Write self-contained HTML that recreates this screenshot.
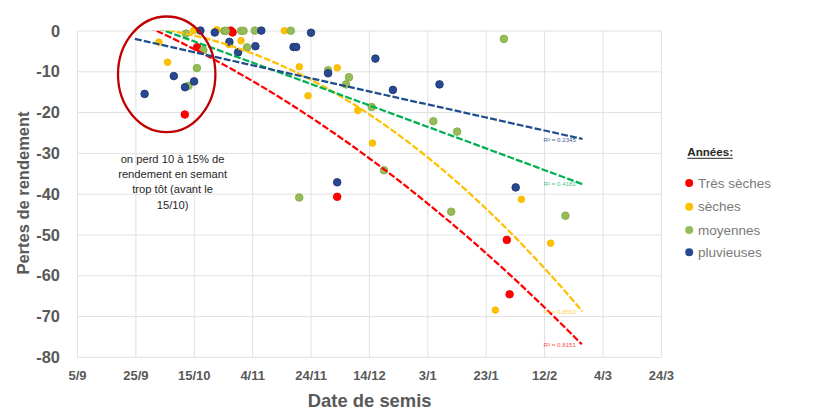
<!DOCTYPE html><html><head><meta charset="utf-8"><style>html,body{margin:0;padding:0;background:#fff;width:820px;height:415px;overflow:hidden}svg{display:block}text{font-family:"Liberation Sans",sans-serif}</style></head><body>
<svg width="820" height="415" viewBox="0 0 820 415">
<rect width="820" height="415" fill="#fff"/>
<defs><clipPath id="pc"><rect x="77.5" y="30.5" width="583.9" height="327.4"/></clipPath></defs>
<path d="M77.5 31.0V357.4M135.9 31.0V357.4M194.3 31.0V357.4M252.7 31.0V357.4M311.1 31.0V357.4M369.4 31.0V357.4M427.8 31.0V357.4M486.2 31.0V357.4M544.6 31.0V357.4M603.0 31.0V357.4M661.4 31.0V357.4M77.5 31.0H661.4M77.5 71.8H661.4M77.5 112.6H661.4M77.5 153.4H661.4M77.5 194.2H661.4M77.5 235.0H661.4M77.5 275.8H661.4M77.5 316.6H661.4M77.5 357.4H661.4" stroke="#e1e1e1" stroke-width="1" fill="none"/>
<text x="60" y="36.6" font-size="16.4" font-weight="700" fill="#595959" text-anchor="end">0</text>
<text x="60" y="77.4" font-size="16.4" font-weight="700" fill="#595959" text-anchor="end">-10</text>
<text x="60" y="118.2" font-size="16.4" font-weight="700" fill="#595959" text-anchor="end">-20</text>
<text x="60" y="159.0" font-size="16.4" font-weight="700" fill="#595959" text-anchor="end">-30</text>
<text x="60" y="199.8" font-size="16.4" font-weight="700" fill="#595959" text-anchor="end">-40</text>
<text x="60" y="240.6" font-size="16.4" font-weight="700" fill="#595959" text-anchor="end">-50</text>
<text x="60" y="281.4" font-size="16.4" font-weight="700" fill="#595959" text-anchor="end">-60</text>
<text x="60" y="322.2" font-size="16.4" font-weight="700" fill="#595959" text-anchor="end">-70</text>
<text x="60" y="363.0" font-size="16.4" font-weight="700" fill="#595959" text-anchor="end">-80</text>
<text x="77.5" y="380.2" font-size="13" font-weight="700" fill="#595959" text-anchor="middle">5/9</text>
<text x="135.9" y="380.2" font-size="13" font-weight="700" fill="#595959" text-anchor="middle">25/9</text>
<text x="194.3" y="380.2" font-size="13" font-weight="700" fill="#595959" text-anchor="middle">15/10</text>
<text x="252.7" y="380.2" font-size="13" font-weight="700" fill="#595959" text-anchor="middle">4/11</text>
<text x="311.1" y="380.2" font-size="13" font-weight="700" fill="#595959" text-anchor="middle">24/11</text>
<text x="369.4" y="380.2" font-size="13" font-weight="700" fill="#595959" text-anchor="middle">14/12</text>
<text x="427.8" y="380.2" font-size="13" font-weight="700" fill="#595959" text-anchor="middle">3/1</text>
<text x="486.2" y="380.2" font-size="13" font-weight="700" fill="#595959" text-anchor="middle">23/1</text>
<text x="544.6" y="380.2" font-size="13" font-weight="700" fill="#595959" text-anchor="middle">12/2</text>
<text x="603.0" y="380.2" font-size="13" font-weight="700" fill="#595959" text-anchor="middle">4/3</text>
<text x="661.4" y="380.2" font-size="13" font-weight="700" fill="#595959" text-anchor="middle">24/3</text>
<text x="369.7" y="406.5" font-size="18.4" font-weight="700" fill="#595959" text-anchor="middle">Date de semis</text>
<text transform="translate(28.8,193) rotate(-90)" font-size="16.5" font-weight="700" fill="#595959" text-anchor="middle">Pertes de rendement</text>
<circle cx="184.8" cy="114.5" r="3.8" fill="#ff0000" stroke="#f00000" stroke-width="0.9"/>
<circle cx="197.2" cy="47.2" r="3.8" fill="#ff0000" stroke="#f00000" stroke-width="0.9"/>
<circle cx="230.8" cy="30.6" r="3.8" fill="#ff0000" stroke="#f00000" stroke-width="0.9"/>
<circle cx="232.6" cy="32.4" r="3.8" fill="#ff0000" stroke="#f00000" stroke-width="0.9"/>
<circle cx="337.2" cy="196.8" r="3.8" fill="#ff0000" stroke="#f00000" stroke-width="0.9"/>
<circle cx="506.8" cy="239.9" r="3.8" fill="#ff0000" stroke="#f00000" stroke-width="0.9"/>
<circle cx="509.6" cy="294.3" r="3.8" fill="#ff0000" stroke="#f00000" stroke-width="0.9"/>
<circle cx="158.9" cy="42.1" r="3.3" fill="#ffc000" stroke="#f5b800" stroke-width="0.9"/>
<circle cx="167.5" cy="62.3" r="3.3" fill="#ffc000" stroke="#f5b800" stroke-width="0.9"/>
<circle cx="193.6" cy="30.6" r="3.3" fill="#ffc000" stroke="#f5b800" stroke-width="0.9"/>
<circle cx="216.8" cy="29.8" r="3.3" fill="#ffc000" stroke="#f5b800" stroke-width="0.9"/>
<circle cx="228.9" cy="44.5" r="3.3" fill="#ffc000" stroke="#f5b800" stroke-width="0.9"/>
<circle cx="241.0" cy="40.7" r="3.3" fill="#ffc000" stroke="#f5b800" stroke-width="0.9"/>
<circle cx="284.4" cy="30.7" r="3.3" fill="#ffc000" stroke="#f5b800" stroke-width="0.9"/>
<circle cx="299.3" cy="66.8" r="3.3" fill="#ffc000" stroke="#f5b800" stroke-width="0.9"/>
<circle cx="308.0" cy="95.8" r="3.3" fill="#ffc000" stroke="#f5b800" stroke-width="0.9"/>
<circle cx="337.3" cy="67.8" r="3.3" fill="#ffc000" stroke="#f5b800" stroke-width="0.9"/>
<circle cx="357.8" cy="110.5" r="3.3" fill="#ffc000" stroke="#f5b800" stroke-width="0.9"/>
<circle cx="372.4" cy="143.1" r="3.3" fill="#ffc000" stroke="#f5b800" stroke-width="0.9"/>
<circle cx="521.4" cy="199.3" r="3.3" fill="#ffc000" stroke="#f5b800" stroke-width="0.9"/>
<circle cx="550.6" cy="243.2" r="3.3" fill="#ffc000" stroke="#f5b800" stroke-width="0.9"/>
<circle cx="495.3" cy="310.1" r="3.3" fill="#ffc000" stroke="#f5b800" stroke-width="0.9"/>
<circle cx="186.0" cy="33.6" r="3.8" fill="#95bc57" stroke="#86ad4a" stroke-width="0.9"/>
<circle cx="188.5" cy="85.8" r="3.8" fill="#95bc57" stroke="#86ad4a" stroke-width="0.9"/>
<circle cx="196.9" cy="68.1" r="3.8" fill="#95bc57" stroke="#86ad4a" stroke-width="0.9"/>
<circle cx="203.3" cy="50.2" r="3.8" fill="#95bc57" stroke="#86ad4a" stroke-width="0.9"/>
<circle cx="224.3" cy="30.9" r="3.8" fill="#95bc57" stroke="#86ad4a" stroke-width="0.9"/>
<circle cx="225.8" cy="30.9" r="3.8" fill="#95bc57" stroke="#86ad4a" stroke-width="0.9"/>
<circle cx="241.2" cy="30.8" r="3.8" fill="#95bc57" stroke="#86ad4a" stroke-width="0.9"/>
<circle cx="243.5" cy="30.8" r="3.8" fill="#95bc57" stroke="#86ad4a" stroke-width="0.9"/>
<circle cx="254.8" cy="30.6" r="3.8" fill="#95bc57" stroke="#86ad4a" stroke-width="0.9"/>
<circle cx="290.8" cy="30.7" r="3.8" fill="#95bc57" stroke="#86ad4a" stroke-width="0.9"/>
<circle cx="247.0" cy="47.4" r="3.8" fill="#95bc57" stroke="#86ad4a" stroke-width="0.9"/>
<circle cx="328.1" cy="70.3" r="3.8" fill="#95bc57" stroke="#86ad4a" stroke-width="0.9"/>
<circle cx="349.0" cy="77.2" r="3.8" fill="#95bc57" stroke="#86ad4a" stroke-width="0.9"/>
<circle cx="346.1" cy="84.4" r="3.8" fill="#95bc57" stroke="#86ad4a" stroke-width="0.9"/>
<circle cx="371.7" cy="107.0" r="3.8" fill="#95bc57" stroke="#86ad4a" stroke-width="0.9"/>
<circle cx="384.0" cy="170.3" r="3.8" fill="#95bc57" stroke="#86ad4a" stroke-width="0.9"/>
<circle cx="299.2" cy="197.5" r="3.8" fill="#95bc57" stroke="#86ad4a" stroke-width="0.9"/>
<circle cx="433.3" cy="121.2" r="3.8" fill="#95bc57" stroke="#86ad4a" stroke-width="0.9"/>
<circle cx="457.1" cy="131.6" r="3.8" fill="#95bc57" stroke="#86ad4a" stroke-width="0.9"/>
<circle cx="451.2" cy="211.7" r="3.8" fill="#95bc57" stroke="#86ad4a" stroke-width="0.9"/>
<circle cx="565.4" cy="215.7" r="3.8" fill="#95bc57" stroke="#86ad4a" stroke-width="0.9"/>
<circle cx="503.9" cy="38.9" r="3.8" fill="#95bc57" stroke="#86ad4a" stroke-width="0.9"/>
<circle cx="144.6" cy="93.9" r="3.8" fill="#284892" stroke="#1e3872" stroke-width="0.9"/>
<circle cx="173.8" cy="76.1" r="3.8" fill="#284892" stroke="#1e3872" stroke-width="0.9"/>
<circle cx="185.0" cy="87.2" r="3.8" fill="#284892" stroke="#1e3872" stroke-width="0.9"/>
<circle cx="194.1" cy="81.4" r="3.8" fill="#284892" stroke="#1e3872" stroke-width="0.9"/>
<circle cx="200.4" cy="30.6" r="3.8" fill="#284892" stroke="#1e3872" stroke-width="0.9"/>
<circle cx="214.8" cy="32.5" r="3.8" fill="#284892" stroke="#1e3872" stroke-width="0.9"/>
<circle cx="261.3" cy="30.6" r="3.8" fill="#284892" stroke="#1e3872" stroke-width="0.9"/>
<circle cx="229.4" cy="41.9" r="3.8" fill="#284892" stroke="#1e3872" stroke-width="0.9"/>
<circle cx="238.1" cy="52.4" r="3.8" fill="#284892" stroke="#1e3872" stroke-width="0.9"/>
<circle cx="255.4" cy="46.2" r="3.8" fill="#284892" stroke="#1e3872" stroke-width="0.9"/>
<circle cx="311.0" cy="32.7" r="3.8" fill="#284892" stroke="#1e3872" stroke-width="0.9"/>
<circle cx="293.5" cy="47.0" r="3.8" fill="#284892" stroke="#1e3872" stroke-width="0.9"/>
<circle cx="296.2" cy="47.0" r="3.8" fill="#284892" stroke="#1e3872" stroke-width="0.9"/>
<circle cx="328.1" cy="73.3" r="3.8" fill="#284892" stroke="#1e3872" stroke-width="0.9"/>
<circle cx="375.4" cy="58.6" r="3.8" fill="#284892" stroke="#1e3872" stroke-width="0.9"/>
<circle cx="392.9" cy="89.9" r="3.8" fill="#284892" stroke="#1e3872" stroke-width="0.9"/>
<circle cx="439.5" cy="84.4" r="3.8" fill="#284892" stroke="#1e3872" stroke-width="0.9"/>
<circle cx="515.7" cy="187.4" r="3.8" fill="#284892" stroke="#1e3872" stroke-width="0.9"/>
<circle cx="337.2" cy="182.3" r="3.8" fill="#284892" stroke="#1e3872" stroke-width="0.9"/>
<g clip-path="url(#pc)" fill="none" stroke-width="2.25" stroke-dasharray="6.9 2.2">
<polyline points="140.0,23.4 147.5,26.7 155.0,30.1 162.5,33.6 170.0,37.1 177.4,40.8 184.9,44.4 192.4,48.2 199.9,52.0 207.4,56.0 214.9,59.9 222.4,64.0 229.9,68.1 237.3,72.3 244.8,76.6 252.3,80.9 259.8,85.3 267.3,89.8 274.8,94.4 282.3,99.0 289.8,103.7 297.3,108.5 304.7,113.4 312.2,118.3 319.7,123.3 327.2,128.4 334.7,133.5 342.2,138.8 349.7,144.0 357.2,149.4 364.6,154.9 372.1,160.4 379.6,165.9 387.1,171.6 394.6,177.3 402.1,183.1 409.6,189.0 417.1,195.0 424.5,201.0 432.0,207.1 439.5,213.3 447.0,219.5 454.5,225.8 462.0,232.2 469.5,238.7 477.0,245.2 484.5,251.8 491.9,258.5 499.4,265.2 506.9,272.0 514.4,278.9 521.9,285.9 529.4,293.0 536.9,300.1 544.4,307.3 551.8,314.5 559.3,321.9 566.8,329.3 574.3,336.8 581.8,344.3" stroke="#ff0000"/>
<polyline points="150.0,27.5 157.3,28.5 164.7,29.6 172.0,30.9 179.3,32.3 186.6,33.8 194.0,35.5 201.3,37.3 208.6,39.2 215.9,41.2 223.3,43.4 230.6,45.8 237.9,48.2 245.2,50.8 252.6,53.5 259.9,56.3 267.2,59.3 274.5,62.4 281.9,65.7 289.2,69.0 296.5,72.5 303.8,76.1 311.2,79.9 318.5,83.8 325.8,87.8 333.1,92.0 340.5,96.3 347.8,100.7 355.1,105.2 362.4,109.9 369.8,114.7 377.1,119.6 384.4,124.7 391.7,129.9 399.1,135.3 406.4,140.7 413.7,146.3 421.0,152.0 428.4,157.9 435.7,163.9 443.0,170.0 450.3,176.3 457.7,182.6 465.0,189.2 472.3,195.8 479.6,202.6 487.0,209.5 494.3,216.5 501.6,223.7 508.9,231.0 516.3,238.4 523.6,246.0 530.9,253.7 538.2,261.5 545.6,269.5 552.9,277.5 560.2,285.8 567.5,294.1 574.9,302.6 582.2,311.2" stroke="#ffc000"/>
<polyline points="140.0,21.8 147.5,24.5 155.0,27.2 162.6,29.9 170.1,32.7 177.6,35.4 185.1,38.1 192.7,40.8 200.2,43.6 207.7,46.3 215.2,49.0 222.7,51.8 230.3,54.5 237.8,57.2 245.3,60.0 252.8,62.7 260.4,65.5 267.9,68.2 275.4,71.0 282.9,73.7 290.4,76.4 298.0,79.2 305.5,81.9 313.0,84.7 320.5,87.5 328.1,90.2 335.6,93.0 343.1,95.7 350.6,98.5 358.1,101.2 365.7,104.0 373.2,106.8 380.7,109.5 388.2,112.3 395.7,115.1 403.3,117.8 410.8,120.6 418.3,123.4 425.8,126.2 433.4,128.9 440.9,131.7 448.4,134.5 455.9,137.3 463.4,140.0 471.0,142.8 478.5,145.6 486.0,148.4 493.5,151.2 501.1,154.0 508.6,156.8 516.1,159.6 523.6,162.3 531.1,165.1 538.7,167.9 546.2,170.7 553.7,173.5 561.2,176.3 568.8,179.1 576.3,181.9 583.8,184.7" stroke="#00b050"/>
<polyline points="134.9,38.9 142.5,40.6 150.1,42.3 157.7,44.0 165.2,45.7 172.8,47.4 180.4,49.1 188.0,50.8 195.6,52.5 203.2,54.2 210.8,55.9 218.4,57.6 225.9,59.3 233.5,61.0 241.1,62.7 248.7,64.4 256.3,66.1 263.9,67.8 271.5,69.5 279.0,71.2 286.6,72.9 294.2,74.6 301.8,76.3 309.4,78.0 317.0,79.7 324.6,81.4 332.1,83.1 339.7,84.8 347.3,86.5 354.9,88.2 362.5,89.9 370.1,91.6 377.7,93.3 385.3,95.0 392.8,96.7 400.4,98.4 408.0,100.1 415.6,101.8 423.2,103.4 430.8,105.1 438.4,106.8 445.9,108.5 453.5,110.2 461.1,111.9 468.7,113.6 476.3,115.3 483.9,117.0 491.5,118.7 499.0,120.4 506.6,122.1 514.2,123.8 521.8,125.5 529.4,127.2 537.0,128.8 544.6,130.5 552.2,132.2 559.7,133.9 567.3,135.6 574.9,137.3 582.5,139.0" stroke="#1f4e8c"/>
</g>
<text x="543.5" y="141.7" font-size="6.2" fill="#44608f">R² = 0.2345</text>
<text x="543.5" y="186.2" font-size="6.2" fill="#4fbf7f">R² = 0.4181</text>
<text x="543.5" y="313.9" font-size="6.2" fill="#ffd24d">R² = 0.8563</text>
<text x="543.5" y="347.3" font-size="6.2" fill="#ff5050">R² = 0.8151</text>
<ellipse cx="166.7" cy="74.3" rx="48.7" ry="57.8" fill="none" stroke="#c00000" stroke-width="2.3"/>
<text x="172.6" y="163.1" font-size="11.2" fill="#262626" text-anchor="middle">on perd 10 à 15% de</text>
<text x="172.6" y="177.9" font-size="11.2" fill="#262626" text-anchor="middle">rendement en semant</text>
<text x="172.6" y="193.3" font-size="11.2" fill="#262626" text-anchor="middle">trop tôt (avant le</text>
<text x="172.6" y="208.6" font-size="11.2" fill="#262626" text-anchor="middle">15/10)</text>
<text x="687.3" y="156.2" font-size="11.6" font-weight="700" fill="#262626">Années:</text>
<path d="M687.3 158.3H732.8" stroke="#262626" stroke-width="1"/>
<circle cx="689.2" cy="183.1" r="4" fill="#ff0000"/>
<text x="698" y="187.7" font-size="13.5" fill="#7a7a7a">Très sèches</text>
<circle cx="689.2" cy="206.8" r="4" fill="#ffc000"/>
<text x="698" y="211.4" font-size="13.5" fill="#7a7a7a">sèches</text>
<circle cx="689.2" cy="230.1" r="4" fill="#95bc57"/>
<text x="698" y="234.7" font-size="13.5" fill="#7a7a7a">moyennes</text>
<circle cx="689.2" cy="252.3" r="4" fill="#284892"/>
<text x="698" y="256.9" font-size="13.5" fill="#7a7a7a">pluvieuses</text>
</svg></body></html>
